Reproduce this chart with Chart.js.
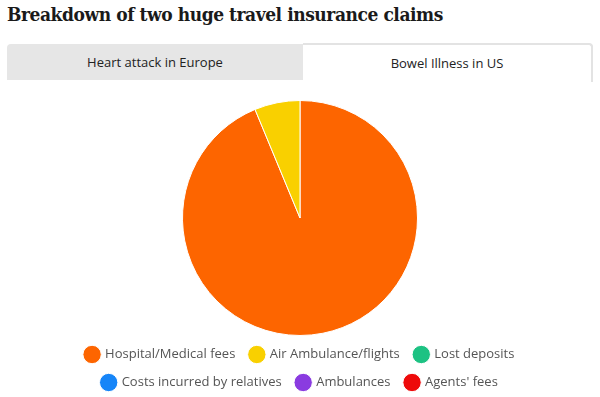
<!DOCTYPE html>
<html>
<head>
<meta charset="utf-8">
<script src="https://cdn.jsdelivr.net/npm/chart.js@4"></script>
<style>
  body { margin: 0; background: #fff; width: 600px; height: 397px; overflow: hidden; font-family: "Open Sans", sans-serif; }
  h1 { position: absolute; left: 7px; top: 3px; margin: 0; font: bold 19px "DejaVu Serif Condensed", "DejaVu Serif", serif; font-stretch: condensed; letter-spacing: -0.45px; color: #1a1a1a; white-space: nowrap; }
  .tabs { position: absolute; left: 7px; top: 44px; width: 586px; height: 36px; background: #e6e6e6; border-radius: 4px 4px 0 0; }
  .tab { position: absolute; top: 0; height: 36px; line-height: 36px; text-align: center; font-size: 13px; color: #222; }
  .tab.a { left: 0; width: 296px; }
  .tab.b { left: 296px; width: 288px; top: -1px; background: #fff; border-top: 2px solid #e3e3e3; border-right: 2px solid #e3e3e3; border-radius: 0 4px 0 0; height: 37px; }
  #wrap { position: absolute; left: 0; top: 88px; width: 600px; height: 314px; }
</style>
</head>
<body>
<h1>Breakdown of two huge travel insurance claims</h1>
<div class="tabs">
  <div class="tab a">Heart attack in Europe</div>
  <div class="tab b">Bowel Illness in US</div>
</div>
<div id="wrap"><canvas id="pie"></canvas></div>
<script>
const categories = ['Hospital/Medical fees', 'Air Ambulance/flights', 'Lost deposits',
  'Costs incurred by relatives', 'Ambulances', "Agents' fees"];
const bowelUS = [150000, 10000, 0, 0, 0, 0];
const colours = ['#fd6500', '#f9d000', '#1dc283', '#1685f8', '#8a3be0', '#ee0a0a'];

// pull the legend a little closer to the pie
const legendNudge = {
  id: 'legendNudge',
  afterLayout(chart) {
    chart.legend.top -= 3;
    chart.legend.bottom -= 3;
  }
};

const ctx = document.getElementById('pie');
new Chart(ctx, {
  type: 'pie',
  data: {
    labels: categories,
    datasets: [{
      data: bowelUS,
      backgroundColor: colours,
      borderColor: '#fff',
      borderWidth: 1
    }]
  },
  options: {
    responsive: true,
    maintainAspectRatio: false,
    animation: false,
    layout: { padding: { top: 12, bottom: 0 } },
    plugins: {
      tooltip: { enabled: false },
      legend: {
        position: 'bottom',
        labels: {
          usePointStyle: true,
          pointStyle: 'circle',
          boxWidth: 13,
          boxHeight: 13,
          padding: 15,
          color: '#555',
          font: { family: 'Open Sans', size: 13 }
        }
      }
    }
  },
  plugins: [legendNudge]
});
</script>
</body>
</html>
